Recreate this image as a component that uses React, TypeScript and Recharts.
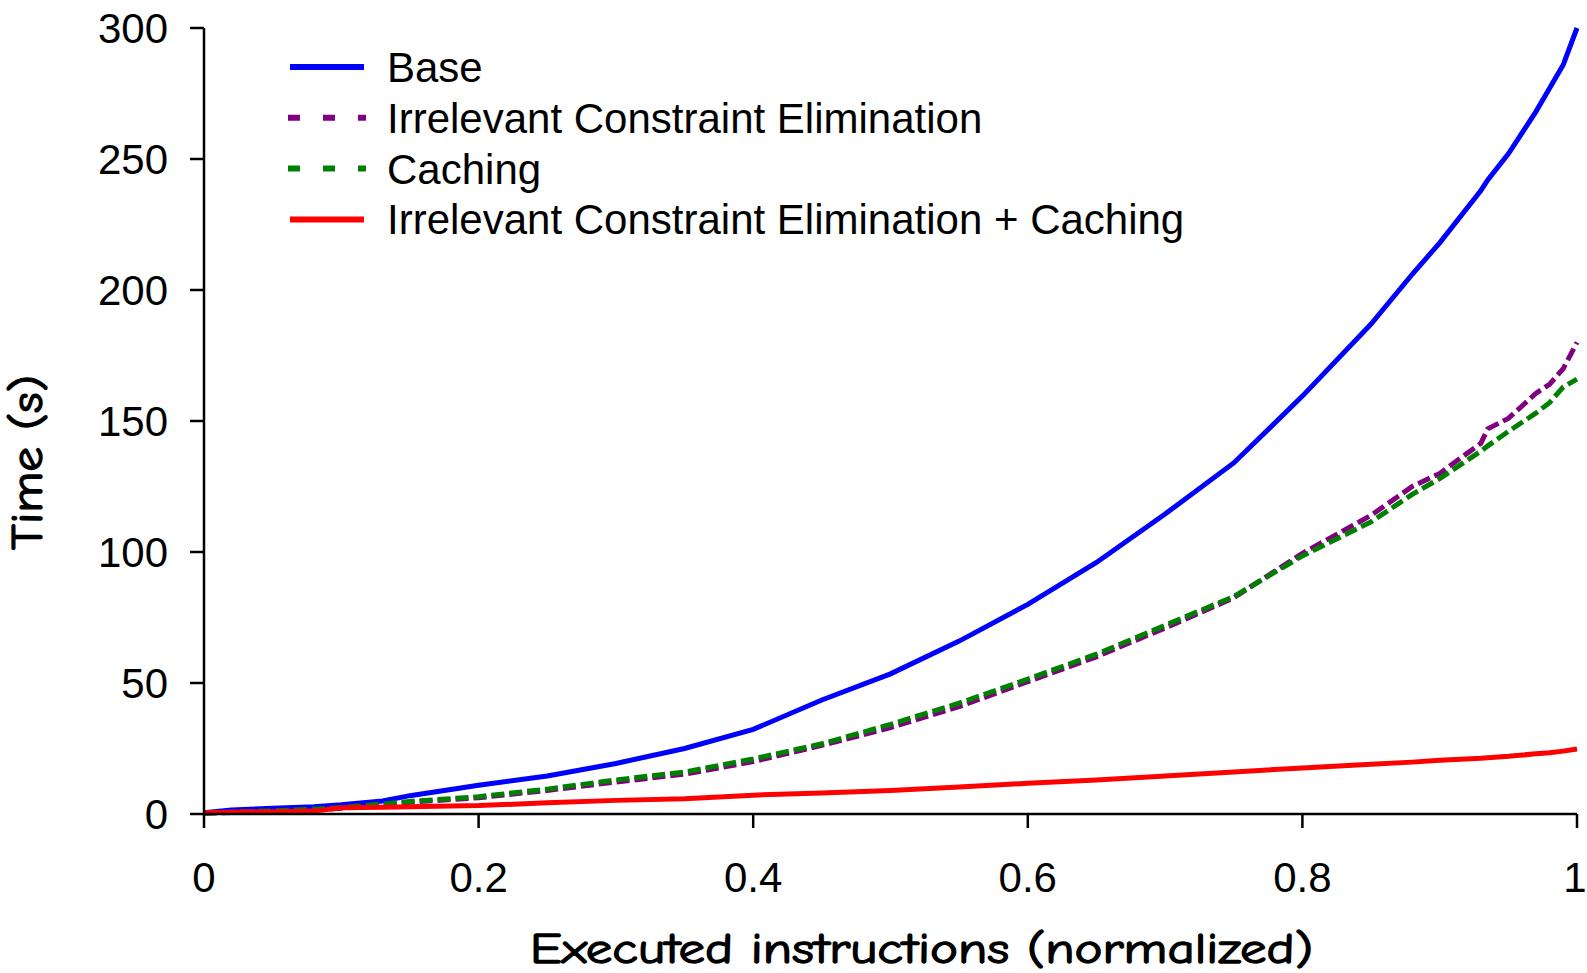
import React from 'react';
import { LineChart, Line, XAxis, YAxis, Legend } from 'recharts';

// Executed instructions (normalized)
const xs = [0, 0.02, 0.05, 0.08, 0.1, 0.13, 0.15, 0.2, 0.25, 0.3, 0.35, 0.4, 0.45, 0.5, 0.55, 0.6, 0.65, 0.7, 0.75, 0.8, 0.85, 0.88, 0.9, 0.93, 0.935, 0.95, 0.97, 0.98, 0.99, 1.0];
// Time (s)
const base = [0.5, 1.5, 2.2, 2.8, 3.5, 5, 7, 11, 14.5, 19.3, 25, 32.3, 43.5, 53.5, 66, 80, 96, 114.5, 134, 159.5, 187, 206, 218, 238, 242, 252, 268, 277, 286, 300];
const ice = [0.3, 0.6, 1, 1.6, 2.2, 3.4, 4.5, 6.2, 9, 12.2, 15.2, 20, 26.2, 33, 41, 50.5, 60, 71, 82.5, 99.5, 114, 125, 130, 141.5, 147, 151, 160.5, 164, 170, 180];
const caching = [0.3, 0.7, 1.2, 1.8, 2.5, 3.8, 4.8, 6.6, 9.5, 13, 16, 21, 26.8, 34.2, 42.3, 51.5, 61, 72, 83, 98.5, 111.5, 122, 128, 138.5, 140.5, 146, 153, 157, 163, 166];
const iceCaching = [0.5, 0.7, 0.9, 1.1, 2.4, 2.6, 2.8, 3.2, 4.3, 5.2, 5.8, 7.2, 8, 9, 10.3, 11.7, 13, 14.5, 16, 17.6, 19, 19.8, 20.5, 21.3, 21.5, 22, 23, 23.4, 24, 24.8];

const xTicks = [0, 0.2, 0.4, 0.6, 0.8, 1];
const xTickLabels = ['0', '0.2', '0.4', '0.6', '0.8', '1'];
const yTicks = [0, 50, 100, 150, 200, 250, 300];

const seriesNames = ['Base', 'Irrelevant Constraint Elimination', 'Caching', 'Irrelevant Constraint Elimination + Caching'];
const seriesKeys = ['base', 'ice', 'caching', 'iceCaching'];
const seriesColors = ['#0000FF', '#800080', '#008000', '#FF0000'];
const seriesDashed = [false, true, true, false];

const rows = xs.map((x, i) => ({
  x,
  base: base[i],
  ice: ice[i],
  caching: caching[i],
  iceCaching: iceCaching[i],
}));

const tickFont = { fontFamily: '"Liberation Sans", Arial, sans-serif', fontSize: 42, fill: '#000' };
const titleFont = '"Comic Sans MS", "Comic Neue", "DejaVu Sans", sans-serif';

const XTick = (props: any) => {
  const { x, y, payload } = props;
  const idx = xTicks.indexOf(payload.value);
  const last = idx === xTicks.length - 1;
  return (
    <text x={x} y={y} dy="0.71em" dx={last ? -2 : 0} textAnchor="middle" {...tickFont}>
      {idx >= 0 ? xTickLabels[idx] : String(payload.value)}
    </text>
  );
};

const XTitle = (props: any) => {
  const vb = props.viewBox || {};
  return (
    <text
      x={vb.x + vb.width / 2 + 31}
      y={vb.y + 149}
      textAnchor="middle"
      fontFamily={titleFont}
      fontSize={43}
      fill="#000"
      stroke="#000"
      strokeWidth={1.3}
      textLength={783}
      lengthAdjust="spacingAndGlyphs"
    >
      Executed instructions (normalized)
    </text>
  );
};

const YTitle = (props: any) => {
  const vb = props.viewBox || {};
  const cx = vb.x + 42;
  const cy = vb.y + vb.height / 2 + 41.5;
  return (
    <text
      x={cx}
      y={cy}
      transform={`rotate(-90, ${cx}, ${cy})`}
      textAnchor="middle"
      fontFamily={titleFont}
      fontSize={44}
      fill="#000"
      stroke="#000"
      strokeWidth={1.3}
      textLength={175}
      lengthAdjust="spacingAndGlyphs"
    >
      Time (s)
    </text>
  );
};

const LegendBox = () => (
  <svg width={920} height={210} style={{ overflow: 'visible', display: 'block' }}>
    {seriesNames.map((name, i) => {
      const y = 29 + i * 50.8;
      return (
        <g key={name}>
          {seriesDashed[i] ? (
            <line x1={10} x2={88} y1={y} y2={y} stroke={seriesColors[i]} strokeWidth={6} strokeDasharray="12 23" />
          ) : (
            <line x1={12} x2={86} y1={y} y2={y} stroke={seriesColors[i]} strokeWidth={6} />
          )}
          <text x={109} y={y} dy="0.355em" {...tickFont}>
            {name}
          </text>
        </g>
      );
    })}
  </svg>
);

export default function App() {
  return (
    <div style={{ position: 'absolute', left: 0, top: 0, width: 1587, height: 973, overflow: 'hidden', background: '#fff' }}>
      <LineChart width={1587} height={973} data={rows} margin={{ top: 28, right: 10, bottom: 0, left: 0 }}>
        <XAxis
          type="number"
          dataKey="x"
          domain={[0, 1]}
          ticks={xTicks}
          height={159}
          tickSize={14}
          tickMargin={34}
          axisLine={{ stroke: '#000', strokeWidth: 2.5 }}
          tickLine={{ stroke: '#000', strokeWidth: 2.5 }}
          tick={<XTick />}
          interval={0}
          label={{ content: <XTitle /> } as any}
        />
        <YAxis
          type="number"
          domain={[0, 300]}
          ticks={yTicks}
          width={204}
          tickSize={14}
          tickMargin={22}
          axisLine={{ stroke: '#000', strokeWidth: 2.5 }}
          tickLine={{ stroke: '#000', strokeWidth: 2.5 }}
          tick={tickFont}
          interval={0}
          label={{ content: <YTitle /> } as any}
        />
        <Legend
          layout="vertical"
          align="center"
          verticalAlign="middle"
          wrapperStyle={{ left: 278, top: 38, width: 920, height: 210 }}
          content={() => <LegendBox />}
        />
        {seriesKeys.map((k, i) => (
          <Line
            key={k}
            type="linear"
            dataKey={k}
            name={seriesNames[i]}
            stroke={seriesColors[i]}
            strokeWidth={5}
            strokeDasharray={seriesDashed[i] ? '13 5' : undefined}
            dot={false}
            activeDot={false}
            isAnimationActive={false}
          />
        ))}
      </LineChart>
    </div>
  );
}
